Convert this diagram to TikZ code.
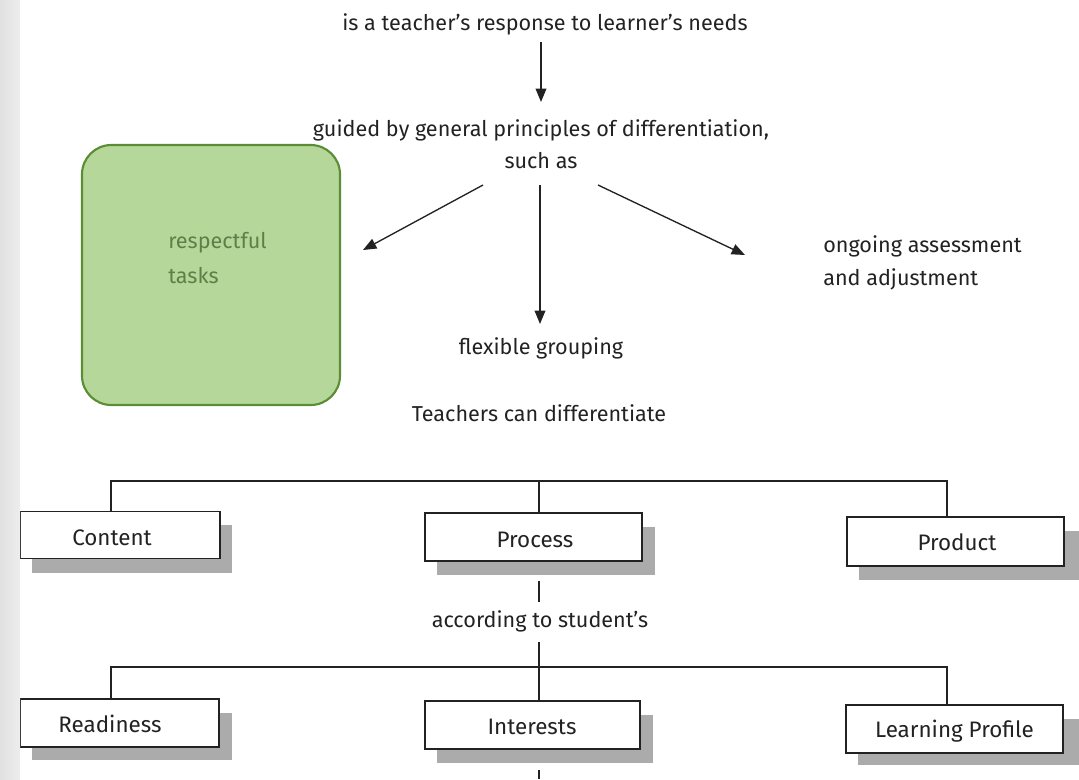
\documentclass[tikz,border=0pt]{standalone}
\usepackage{fontspec}
\setmainfont{Fira Sans}
\usetikzlibrary{arrows.meta}
\definecolor{ink}{HTML}{222222}
\definecolor{greenfill}{HTML}{B5D89A}
\definecolor{greenline}{HTML}{5B8D34}
\definecolor{greentext}{HTML}{5E7F48}
\definecolor{shadowgray}{HTML}{ABABAB}
\begin{document}
\begin{tikzpicture}[x=0.75pt,y=-0.75pt,
  txt/.style={text=ink, font=\fontsize{16.2}{19}\selectfont, inner sep=0pt, anchor=base},
  boxtxt/.style={text=ink, font=\fontsize{16.8}{20}\selectfont, inner sep=0pt, anchor=base},
  arr/.style={draw=ink, line width=1pt, -{Triangle[length=10pt,width=8pt]}},
  ln/.style={draw=ink, line width=1pt},
  bx/.style={draw=ink, line width=1pt, fill=white, inner sep=0pt},
  shd/.style={fill=shadowgray}]
\useasboundingbox (0,0) rectangle (1079,779);
% top texts
\node[txt] (resp) at (545,30) {is a teacher’s response to learner’s needs};
\node[txt] (guided) at (541,136) {guided by general principles of differentiation,};
\node[txt] (such) at (541,168) {such as};
\coordinate (g1) at (483,185);
\coordinate (g2) at (540,185);
\coordinate (g3) at (598,185);
\coordinate (a1) at (363,250);
\coordinate (a3) at (745,255);
\coordinate (r1) at (541,42);
\coordinate (r2) at (541,102);
\draw[arr] (r1) -- (r2);
% green box
\node[draw=greenline, line width=1.6pt, fill=greenfill, rounded corners=22pt,
      minimum width=258*0.75pt, minimum height=260*0.75pt, inner sep=0pt] (green) at (211,275) {};
\node[text=greentext, font=\fontsize{16.2}{19}\selectfont, anchor=base west, inner sep=0pt] (rt1) at (168,248) {respectful};
\node[text=greentext, font=\fontsize{16.2}{19}\selectfont, anchor=base west, inner sep=0pt] (rt2) at (168,283) {tasks};
\node[txt, anchor=base west] (oa1) at (823,252) {ongoing assessment};
\node[txt, anchor=base west] (oa2) at (823,285) {and adjustment};
\node[txt] (flex) at (541,354) {flexible grouping};
\node[txt] (teach) at (539,421) {Teachers can differentiate};
\coordinate (a2) at (540,324);
\draw[arr] (g1) -- (a1);
\draw[arr] (g2) -- (a2);
\draw[arr] (g3) -- (a3);
% first level boxes
\fill[shd] (32,525) rectangle (232,573);
\fill[shd] (437,527) rectangle (655,575);
\fill[shd] (859,531) rectangle (1079,580);
\node[bx, minimum width=200*0.75pt, minimum height=47*0.75pt] (content) at (120,535) {};
\node[bx, minimum width=217*0.75pt, minimum height=48*0.75pt] (process) at (533.5,537) {};
\node[bx, minimum width=217*0.75pt, minimum height=49*0.75pt] (product) at (955.5,541.5) {};
\node[boxtxt] (contentt) at (112,545) {Content};
\node[boxtxt] (processt) at (535,547) {Process};
\node[boxtxt] (productt) at (957,550) {Product};
\coordinate (h1l) at (111,481);
\coordinate (h1m) at (539,481);
\coordinate (h1r) at (947,481);
\draw[ln] (content.north -| h1l) -- (h1l) -- (h1r) -- (product.north -| h1r);
\draw[ln] (h1m) -- (process.north -| h1m);
% according
\node[txt] (acc) at (540,627) {according to student’s};
\coordinate (p1) at (539,581);
\coordinate (p2) at (539,602);
\coordinate (p3) at (539,642);
\draw[ln] (p1) -- (p2);
% second level
\fill[shd] (32,713) rectangle (232,760);
\fill[shd] (437,715) rectangle (653,763);
\fill[shd] (858,719) rectangle (1079,765);
\node[bx, minimum width=199*0.75pt, minimum height=48*0.75pt] (ready) at (119.5,723) {};
\node[bx, minimum width=215*0.75pt, minimum height=48*0.75pt] (inter) at (532.5,725) {};
\node[bx, minimum width=217*0.75pt, minimum height=48*0.75pt] (learn) at (954.5,729) {};
\node[boxtxt] (readyt) at (110,732) {Readiness};
\node[boxtxt] (intert) at (532,734) {Interests};
\node[boxtxt] (learnt) at (954.5,737) {Learning Profile};
\coordinate (h2l) at (111,667);
\coordinate (h2r) at (947,667);
\draw[ln] (p3) -- (inter.north -| p3);
\draw[ln] (ready.north -| h2l) -- (h2l) -- (h2r) -- (learn.north -| h2r);
\coordinate (b1) at (539,770);
\coordinate (b2) at (539,779);
\draw[ln] (b1) -- (b2);
% left strip
\shade[left color=gray!24, right color=gray!14] (0,0) rectangle (20,779);
\end{tikzpicture}
\end{document}
